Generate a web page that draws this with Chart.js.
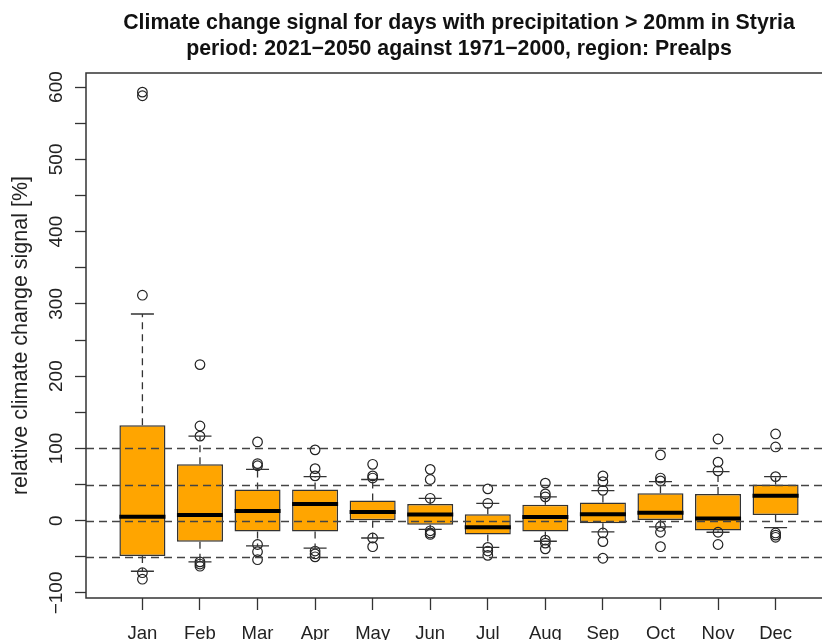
<!DOCTYPE html>
<html>
<head>
<meta charset="utf-8">
<script src="https://cdn.jsdelivr.net/npm/chart.js@4.4.0/dist/chart.umd.min.js"></script>
<style>
  body { margin: 0; background: #fff; }
  .wrap { width: 822px; height: 640px; overflow: hidden; }
</style>
</head>
<body>
<div class="wrap"><canvas id="myChart" width="840" height="640"></canvas></div>
<script>
const months = ['Jan', 'Feb', 'Mar', 'Apr', 'May', 'Jun', 'Jul', 'Aug', 'Sep', 'Oct', 'Nov', 'Dec'];

// box statistics (relative change in %)
const lowerQuartile = [-49, -29, -15, -15, 0, -5.5, -19, -15, -3.5, 1, -13.5, 8];
const upperQuartile = [132, 78, 43, 43, 28, 23, 9, 22, 25, 38, 37, 50];
const medians = [5.5, 8, 13.5, 23, 12, 8.5, -9, 5, 9, 11, 3, 34.5];
const whiskerLow = [-70, -57, -35, -38, -24, -12, -37, -28.5, -15.5, -8.5, -16, -9.5];
const whiskerHigh = [286, 117, 71, 61, 57, 31, 24, 33, 41.5, 54, 68, 61];
const outliers = [
    [593, 588, 312, -72, -81],
    [216, 131, 117, -57, -60, -63],
    [109, 79, 76, -33, -43, -54],
    [98, 72, 62, -42, -46, -50],
    [78, 62, 59, -24, -36],
    [71, 57, 31, -14, -17, -19],
    [44, 24, -37, -42, -48],
    [52, 37, 33, -27, -31, -39],
    [62, 54, 42, -17, -29, -52],
    [91, 59, 55, -8, -16, -36],
    [113, 81, 69, -16, -33],
    [120, 102, 61, -17, -20, -23]
];
const refLines = [100, 50, 0, -50];
const yTicks = [-100, -50, 0, 50, 100, 150, 200, 250, 300, 350, 400, 450, 500, 550, 600];

const boxData = months.map((m, i) => ({ x: i + 1, y: [lowerQuartile[i], upperQuartile[i]] }));
const outlierData = [];
outliers.forEach((list, i) => list.forEach(v => outlierData.push({ x: i + 1, y: v })));

Chart.defaults.font.family = '"Liberation Sans", Arial, Helvetica, sans-serif';
Chart.defaults.color = '#222';

const boxExtras = {
    id: 'boxExtras',
    afterDatasetsDraw(chart) {
        const ctx = chart.ctx;
        const y = chart.scales.y;
        const area = chart.chartArea;
        const bars = chart.getDatasetMeta(1).data;
        ctx.save();
        // whiskers and caps
        bars.forEach((bar, i) => {
            const cx = bar.x;
            const capHalf = bar.width / 4;
            const yl = y.getPixelForValue(whiskerLow[i]);
            const yh = y.getPixelForValue(whiskerHigh[i]);
            const yq1 = y.getPixelForValue(lowerQuartile[i]);
            const yq3 = y.getPixelForValue(upperQuartile[i]);
            ctx.strokeStyle = '#333';
            ctx.lineWidth = 1.3;
            ctx.setLineDash([7, 5]);
            ctx.beginPath();
            ctx.moveTo(cx, yq3); ctx.lineTo(cx, yh);
            ctx.moveTo(cx, yq1); ctx.lineTo(cx, yl);
            ctx.stroke();
            ctx.setLineDash([]);
            ctx.beginPath();
            ctx.moveTo(cx - capHalf, yh); ctx.lineTo(cx + capHalf, yh);
            ctx.moveTo(cx - capHalf, yl); ctx.lineTo(cx + capHalf, yl);
            ctx.stroke();
            // median
            const ym = y.getPixelForValue(medians[i]);
            ctx.strokeStyle = '#000';
            ctx.lineWidth = 4;
            ctx.beginPath();
            ctx.moveTo(cx - bar.width / 2, ym); ctx.lineTo(cx + bar.width / 2, ym);
            ctx.stroke();
        });
        // dashed reference lines
        ctx.strokeStyle = '#444';
        ctx.lineWidth = 1.5;
        ctx.setLineDash([8, 5]);
        refLines.forEach(v => {
            const py = Math.round(y.getPixelForValue(v)) + 0.5;
            ctx.beginPath();
            ctx.moveTo(area.left, py); ctx.lineTo(area.right, py);
            ctx.stroke();
        });
        ctx.setLineDash([]);
        // frame
        ctx.strokeStyle = '#333';
        ctx.lineWidth = 1.5;
        ctx.strokeRect(area.left, area.top, area.right - area.left, area.bottom - area.top);
        ctx.restore();
    }
};

new Chart(document.getElementById('myChart'), {
    data: {
        datasets: [{
            type: 'scatter',
            data: outlierData,
            pointStyle: 'circle',
            pointRadius: 4.8,
            pointHoverRadius: 4.8,
            borderColor: '#222',
            borderWidth: 1.2,
            backgroundColor: 'rgba(0,0,0,0)',
            order: 0
        }, {
            type: 'bar',
            data: boxData,
            backgroundColor: '#FFA500',
            borderColor: '#333',
            borderWidth: 1.5,
            borderSkipped: false,
            barPercentage: 0.8,
            categoryPercentage: 1,
            order: 1
        }]
    },
    options: {
        responsive: false,
        animation: false,
        events: [],
        layout: { padding: { left: 0, right: 8, top: 0, bottom: 0 } },
        scales: {
            x: {
                type: 'linear',
                min: 0.02,
                max: 12.98,
                offset: false,
                afterBuildTicks: scale => { scale.ticks = months.map((m, i) => ({ value: i + 1 })); },
                afterFit: scale => { scale.height = 42; },
                border: { display: false },
                grid: { offset: false, drawOnChartArea: false, drawTicks: true, tickLength: 12, tickColor: '#333', tickWidth: 1.3 },
                ticks: {
                    autoSkip: false,
                    maxRotation: 0,
                    padding: 13,
                    font: { size: 18.5 },
                    callback: v => months[v - 1]
                }
            },
            y: {
                type: 'linear',
                min: -107,
                max: 619.5,
                afterBuildTicks: scale => { scale.ticks = yTicks.map(v => ({ value: v })); },
                afterFit: scale => { scale.width = 86; },
                border: { display: false },
                grid: { drawOnChartArea: false, drawTicks: true, tickLength: 11, tickColor: '#333', tickWidth: 1.3 },
                ticks: {
                    autoSkip: false,
                    minRotation: 90,
                    maxRotation: 90,
                    crossAlign: 'center',
                    padding: -3,
                    font: { size: 19 },
                    callback: v => (v % 100 === 0 ? String(v).replace('-', '\u2212') : '')
                },
                title: {
                    display: true,
                    text: 'relative climate change signal [%]',
                    font: { size: 21.5 },
                    color: '#222',
                    padding: { top: 8, bottom: 0 }
                }
            }
        },
        plugins: {
            legend: { display: false },
            tooltip: { enabled: false },
            title: {
                display: true,
                fullSize: false,
                text: ['Climate change signal for days with precipitation > 20mm in Styria',
                       'period: 2021\u22122050 against 1971\u22122000, region: Prealps'],
                font: { size: 21.3, weight: 'bold', lineHeight: 26 / 21.3 },
                color: '#111',
                padding: { top: 10, bottom: 11 }
            }
        }
    },
    plugins: [boxExtras]
});
</script>
</body>
</html>
